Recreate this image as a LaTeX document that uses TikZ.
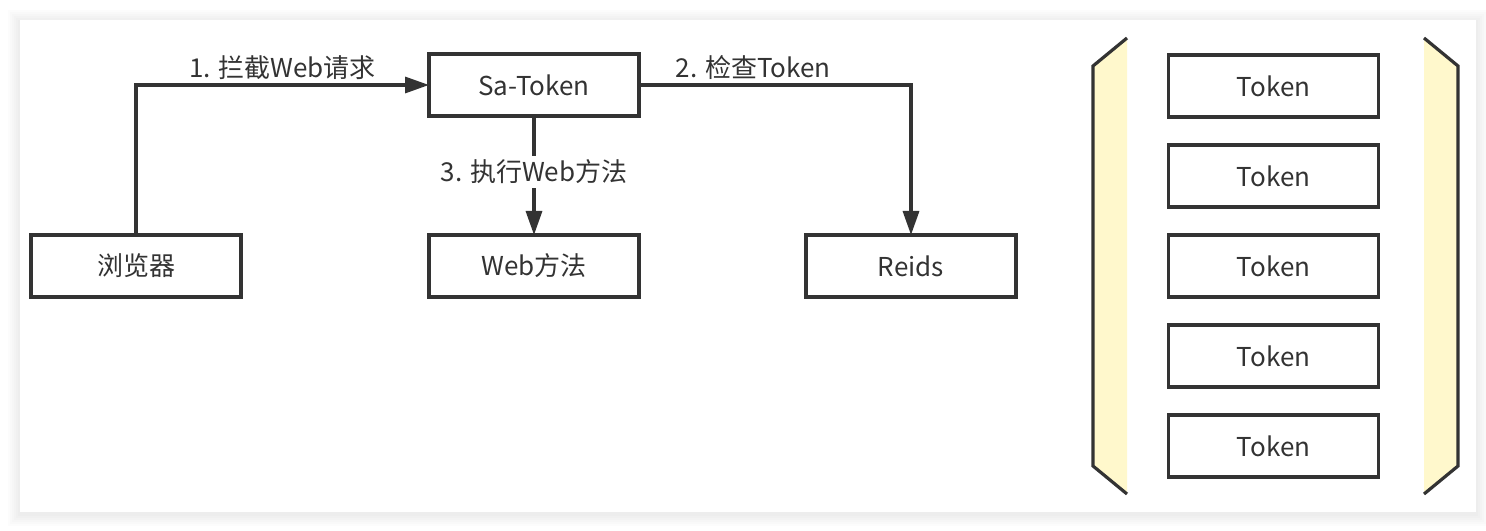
\documentclass[tikz,border=0pt]{standalone}
\usepackage{fontspec}
\setmainfont{Noto Sans CJK SC}
\usetikzlibrary{positioning}
\usetikzlibrary{arrows.meta}
\definecolor{linegray}{HTML}{333333}
\definecolor{brackyellow}{HTML}{FFF8CC}

\begin{document}
\begin{tikzpicture}[x=1pt, y=1pt, node distance=14pt,
    box/.style={draw=linegray, line width=1.6pt, minimum width=105pt, minimum height=31pt,
      outer sep=0pt, inner sep=0pt, text=linegray, font=\fontsize{13pt}{15pt}\selectfont},
    lbl/.style={text=linegray, font=\fontsize{13pt}{15pt}\selectfont},
    flow/.style={draw=linegray, line width=1.6pt, -{Triangle[length=12pt,width=8pt]}}]
      \useasboundingbox (0,0) rectangle (743,265);
      % card with a soft shadow
      \foreach \s in {1,...,6}
        \fill[black, opacity=0.01] ({10-\s},{9-\s-1}) rectangle ({738+\s},{255+\s-1});
      \fill[white] (10,9) rectangle (738,255);

      \node(browser) [box] at (68,132) {浏览器};
      \node(web) [box, right=94pt of browser] {Web方法};
      \node(reids) [box, right=83.5pt of web] {Reids};
      \node(satoken) [box, above=59.5pt of web] {Sa-Token};
      \node(tok3) [box, right=76.25pt of reids] {Token};
      \node(tok2) [box, above=of tok3] {Token};
      \node(tok1) [box, above=of tok2] {Token};
      \node(tok4) [box, below=of tok3] {Token};
      \node(tok5) [box, below=of tok4] {Token};

      % brackets round the token list
      \fill[brackyellow] (563.5,246) -- (546.5,232) -- (546.5,32) -- (563.5,18) -- cycle;
      \draw[linegray, line width=1.6pt] (563.5,246) -- (546.5,232) -- (546.5,32) -- (563.5,18);
      \fill[brackyellow] (712,246) -- (729,232) -- (729,32) -- (712,18) -- cycle;
      \draw[linegray, line width=1.6pt] (712,246) -- (729,232) -- (729,32) -- (712,18);

      \draw[flow] (browser) |- node[lbl, above, yshift=-1.5pt, pos=0.75] {1. 拦截Web请求} (satoken);
      \draw[flow] (satoken) -| node[lbl, above, yshift=-1.5pt, pos=0.21] {2. 检查Token} (reids);
      \draw[flow] (satoken) -- node[lbl, fill=white, inner ysep=2pt, pos=0.47] {3. 执行Web方法} (web);
    \end{tikzpicture}
\end{document}
